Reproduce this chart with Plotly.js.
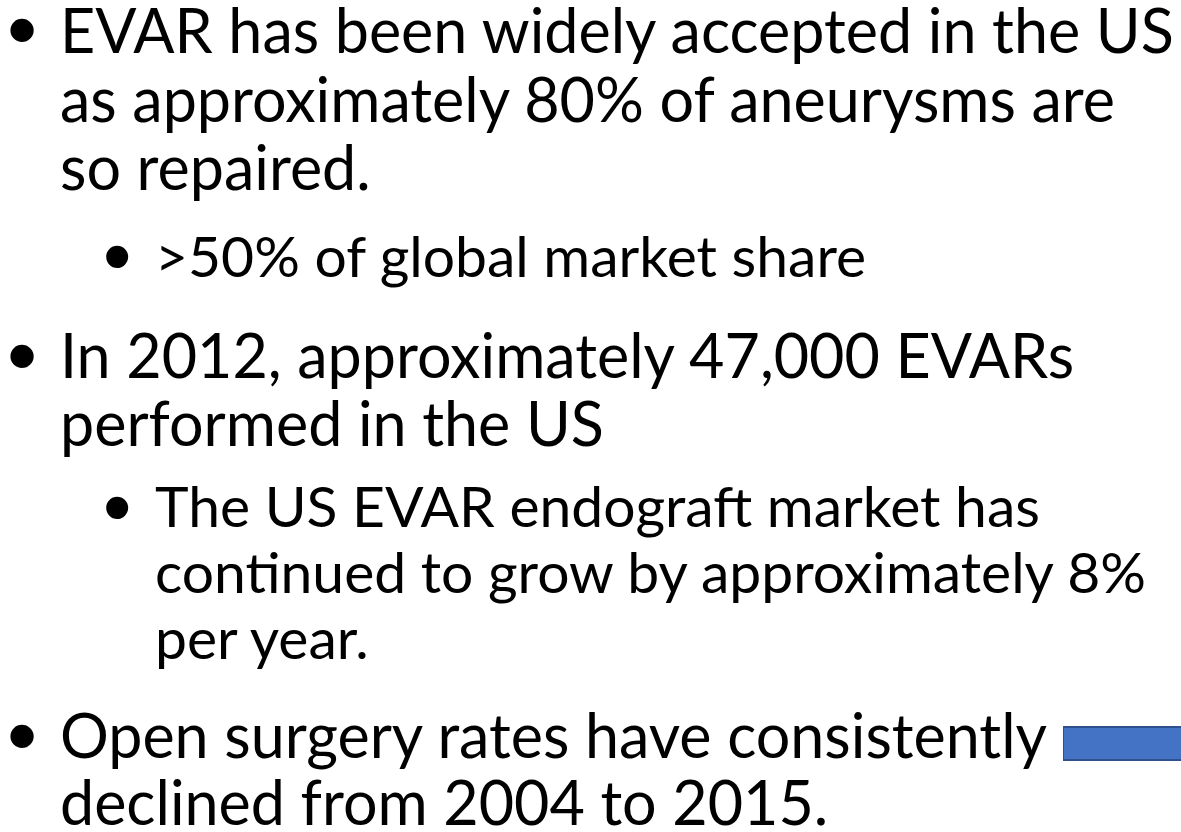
<!DOCTYPE html>
<html><head><meta charset="utf-8">
<script src="https://cdn.plot.ly/plotly-3.0.1.min.js"></script>
<style>html,body{margin:0;padding:0;background:#fff;}#chart{width:1181px;height:832px;}</style>
</head><body><div id="chart"></div>
<script>
// Slide text content
const lineTexts = [
  "EVAR has been widely accepted in the US",
  "as approximately 80% of aneurysms are",
  "so repaired.",
  ">50% of global market share",
  "In 2012, approximately 47,000 EVARs",
  "performed in the US",
  "The US EVAR endograft market has",
  "continued to grow by approximately 8%",
  "per year.",
  "Open surgery rates have consistently",
  "declined from 2004 to 2015."
];
const lineLevels = [1, 1, 1, 2, 1, 1, 2, 2, 2, 1, 1];
const lineBullet = [true, false, false, true, true, false, true, false, false, true, false];
const lineBaselines = [53, 122, 190, 277, 378, 446, 527, 593, 659, 758, 825];

// Partial bar visible at the slide edge
const barCategories = ["bar"];
const barValues = [1.3];

const W = 1181, H = 832;
const FONT = "Lato, 'Open Sans', sans-serif";
const BFONT = "'Liberation Sans', Arial, sans-serif";
const sizes = {1: 61, 2: 57};
const bsizes = {1: 86, 2: 81};
const textX = {1: 58, 2: 153};
const bulletX = {1: 5, 2: 101};
const bulletRise = {1: 24.5, 2: 21.5};
const K = 0.39;

const annotations = [];
lineTexts.forEach((t, i) => {
  const lvl = lineLevels[i];
  const s = sizes[lvl];
  const yc = lineBaselines[i] - K * s;
  annotations.push({
    xref: 'paper', yref: 'paper', x: textX[lvl] / W, y: 1 - yc / H,
    xanchor: 'left', yanchor: 'middle', showarrow: false, text: t,
    font: {family: FONT, size: s, color: '#000'}
  });
  if (lineBullet[i]) {
    const yb = lineBaselines[i] - bulletRise[lvl] + 1;
    annotations.push({
      xref: 'paper', yref: 'paper', x: bulletX[lvl] / W, y: 1 - yb / H,
      xanchor: 'left', yanchor: 'middle', showarrow: false, text: '•',
      font: {family: BFONT, size: bsizes[lvl], color: '#000'}
    });
  }
});

const trace = {
  type: 'bar', orientation: 'h', y: barCategories, x: barValues,
  marker: {color: '#4472C4', line: {color: '#2F528F', width: 2}},
  width: 0.94, hoverinfo: 'skip'
};

const layout = {
  width: W, height: H, margin: {l: 0, r: 0, t: 0, b: 0, pad: 0},
  paper_bgcolor: '#fff', plot_bgcolor: 'rgba(0,0,0,0)', showlegend: false,
  xaxis: {domain: [1063 / W, 1], range: [0, 1], visible: false, fixedrange: true},
  yaxis: {domain: [(H - 761) / H, (H - 726) / H], range: [-0.5, 0.5], visible: false, fixedrange: true},
  annotations: annotations
};
Plotly.newPlot('chart', [trace], layout, {displayModeBar: false, staticPlot: true});
</script></body></html>
